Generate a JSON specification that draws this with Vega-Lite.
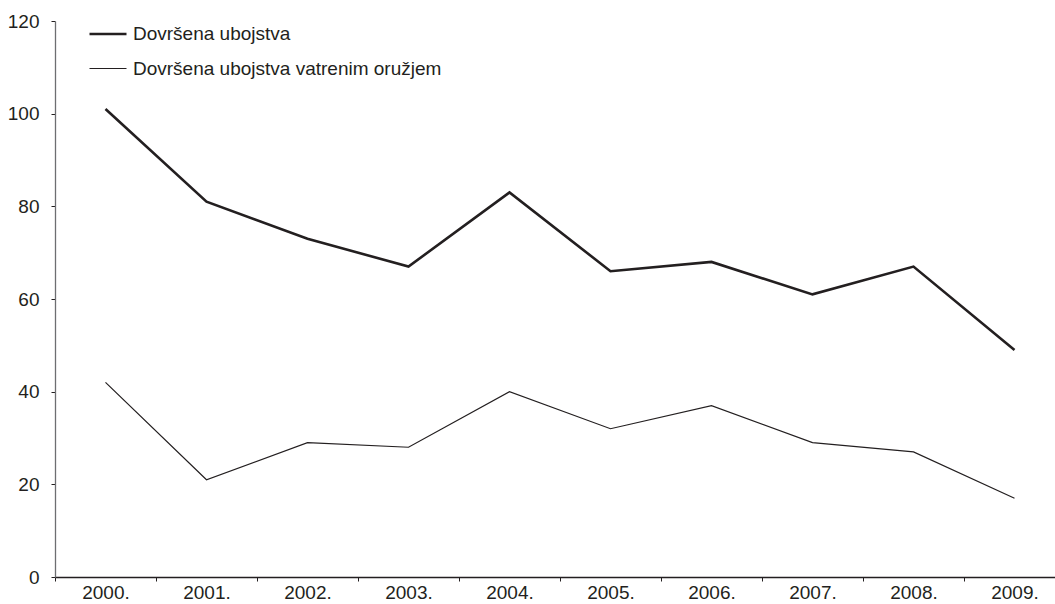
{
  "$schema": "https://vega.github.io/schema/vega-lite/v6.json",
  "autosize": {"type": "none"},
  "width": 1000,
  "height": 556,
  "padding": {"left": 55, "top": 21, "right": 0, "bottom": 27},
  "background": "white",
  "config": {"view": {"stroke": null}, "font": "Liberation Sans"},
  "data": {"values": [
    {"year": "2000.", "series": "Dovršena ubojstva", "value": 101},
    {"year": "2001.", "series": "Dovršena ubojstva", "value": 81},
    {"year": "2002.", "series": "Dovršena ubojstva", "value": 73},
    {"year": "2003.", "series": "Dovršena ubojstva", "value": 67},
    {"year": "2004.", "series": "Dovršena ubojstva", "value": 83},
    {"year": "2005.", "series": "Dovršena ubojstva", "value": 66},
    {"year": "2006.", "series": "Dovršena ubojstva", "value": 68},
    {"year": "2007.", "series": "Dovršena ubojstva", "value": 61},
    {"year": "2008.", "series": "Dovršena ubojstva", "value": 67},
    {"year": "2009.", "series": "Dovršena ubojstva", "value": 49},
    {"year": "2000.", "series": "Dovršena ubojstva vatrenim oružjem", "value": 42},
    {"year": "2001.", "series": "Dovršena ubojstva vatrenim oružjem", "value": 21},
    {"year": "2002.", "series": "Dovršena ubojstva vatrenim oružjem", "value": 29},
    {"year": "2003.", "series": "Dovršena ubojstva vatrenim oružjem", "value": 28},
    {"year": "2004.", "series": "Dovršena ubojstva vatrenim oružjem", "value": 40},
    {"year": "2005.", "series": "Dovršena ubojstva vatrenim oružjem", "value": 32},
    {"year": "2006.", "series": "Dovršena ubojstva vatrenim oružjem", "value": 37},
    {"year": "2007.", "series": "Dovršena ubojstva vatrenim oružjem", "value": 29},
    {"year": "2008.", "series": "Dovršena ubojstva vatrenim oružjem", "value": 27},
    {"year": "2009.", "series": "Dovršena ubojstva vatrenim oružjem", "value": 17}
  ]},
  "mark": {"type": "line", "color": "#231f20", "strokeJoin": "miter"},
  "encoding": {
    "x": {
      "field": "year", "type": "ordinal",
      "scale": {"type": "band", "range": [0, 1010], "paddingInner": 0, "paddingOuter": 0},
      "axis": {
        "title": null, "labelAngle": 0, "grid": false,
        "domainColor": "#231f20", "domainWidth": 1.3,
        "tickColor": "#231f20", "tickSize": 4, "tickBand": "extent",
        "labelFontSize": 19, "labelColor": "#231f20", "labelPadding": 2
      }
    },
    "y": {
      "field": "value", "type": "quantitative",
      "scale": {"domain": [0, 120], "nice": false, "zero": true},
      "axis": {
        "title": null, "grid": false, "values": [0, 20, 40, 60, 80, 100, 120],
        "domainColor": "#6d6e71", "domainWidth": 1.3,
        "tickColor": "#231f20", "tickSize": 4,
        "labelFontSize": 19, "labelColor": "#231f20", "labelPadding": 12
      }
    },
    "strokeWidth": {
      "field": "series", "type": "nominal",
      "scale": {"domain": ["Dovršena ubojstva", "Dovršena ubojstva vatrenim oružjem"], "range": [2.6, 1.2]},
      "legend": {
        "title": null, "orient": "none", "legendX": 33, "legendY": -7,
        "symbolType": "stroke", "symbolSize": 1369, "symbolStrokeColor": "#231f20",
        "labelFontSize": 19, "labelColor": "#231f20", "labelOffset": 5,
        "labelLimit": 600, "rowPadding": 5
      }
    }
  }
}
